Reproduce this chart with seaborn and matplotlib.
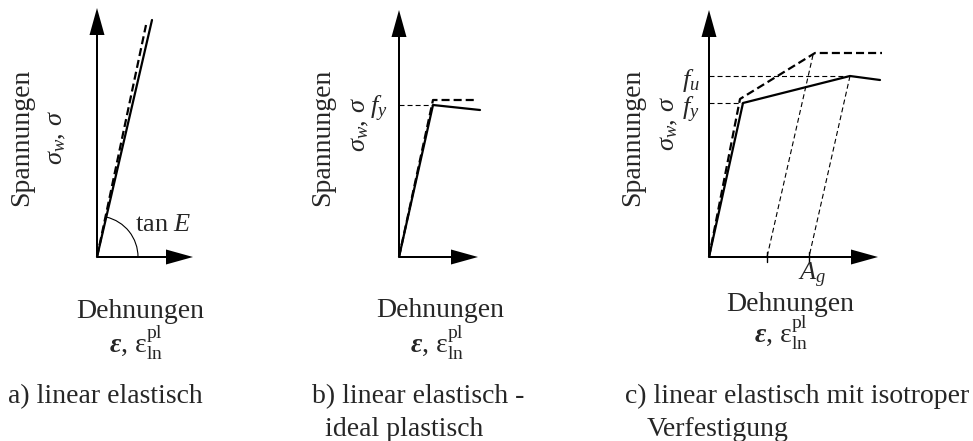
import numpy as np
import matplotlib
matplotlib.use("Agg")
import matplotlib.pyplot as plt
from matplotlib.patches import Arc
import seaborn as sns

sns.set_theme(style="white")
plt.rcParams["font.family"] = ["Liberation Serif", "DejaVu Serif"]
plt.rcParams["mathtext.fontset"] = "custom"
plt.rcParams["mathtext.rm"] = "Liberation Serif"
plt.rcParams["mathtext.it"] = "Liberation Serif:italic"
plt.rcParams["mathtext.bf"] = "Liberation Serif:italic:bold"
plt.rcParams["lines.scale_dashes"] = False

# --- schematic stress-strain data (strain units / stress units) ---
# a) linear elastic
a_eng_eps = [0, 55]
a_eng_sig = [0, 237]
a_true_eps = [0, 49]
a_true_sig = [0, 232]

# b) linear elastic - ideal plastic
b_eng_eps = [0, 34, 81]
b_eng_sig = [0, 152, 147]
b_true_eps = [0, 34, 76]
b_true_sig = [0, 157, 157]
b_fy = 152

# c) linear elastic with isotropic hardening
c_eng_eps = [0, 34, 141, 171]
c_eng_sig = [0, 154, 181, 177]
c_true_eps = [0, 31, 106, 173]
c_true_sig = [0, 158, 204, 204]
c_fy = 154
c_fu = 181
# elastic unloading paths (start point, end on strain axis)
c_unload1_eps = [104, 58]
c_unload1_sig = [202, 0]
c_unload2_eps = [141, 100]
c_unload2_sig = [181, 0]
c_ticks = [58, 100]

W, H = 973, 441
fig = plt.figure(figsize=(W / 100, H / 100), dpi=100)

LW_MAIN = 1.6
LW_THIN = 0.8
DASH_MAIN = (0, (5.8, 2.9))
DASH_THIN = (0, (3.6, 2.2))
FS = 20


def make_panel(x0, x1, ox, oy):
    ax = fig.add_axes([x0 / W, 0, (x1 - x0) / W, 1])
    ax.set_xlim(x0 - ox, x1 - ox)
    ax.set_ylim(oy - H, oy)
    ax.axis("off")
    return ax


def axes_arrows(ax, xtip, ytip):
    kw = dict(width=2.0, head_width=15, head_length=27,
              length_includes_head=True, fc="black", ec="black", lw=0,
              clip_on=False)
    ax.arrow(0, 0, 0, ytip, **kw)
    ax.arrow(0, 0, xtip, 0, **kw)


def curve(ax, x, y, dashed=False, lw=LW_MAIN, ls=None):
    style = ls if ls is not None else (DASH_MAIN if dashed else "-")
    sns.lineplot(x=x, y=y, sort=False, estimator=None, ax=ax, color="black",
                 linewidth=lw, linestyle=style)


def labels(ax, sp_x, sig_xy, deh_xy, eps_xy):
    ax.text(sp_x, 120, "Spannungen", rotation=90, ha="center", va="center",
            fontsize=FS)
    ax.text(sig_xy[0], sig_xy[1], r"$\sigma_w$, $\sigma$", rotation=90,
            ha="center", va="center", fontsize=19)
    ax.text(deh_xy[0], deh_xy[1], "Dehnungen", ha="center", va="baseline",
            fontsize=FS)
    ax.text(eps_xy[0], eps_xy[1],
            r"$\mathbf{\varepsilon}$, $\mathrm{\varepsilon}_{\mathrm{ln}}^{\mathrm{pl}}$",
            ha="center", va="baseline", fontsize=FS)


# ---- panel a ----
ax = make_panel(0, 300, 97, 257)
axes_arrows(ax, 96, 249)
curve(ax, a_eng_eps, a_eng_sig)
curve(ax, a_true_eps, a_true_sig, dashed=True)
ang = np.degrees(np.arctan2(a_eng_sig[1], a_eng_eps[1]))
ax.add_patch(Arc((0, 0), 82, 82, theta1=0, theta2=ang, lw=LW_THIN,
                 color="black"))
ax.text(66, 32, r"tan $E$", ha="center", va="center", fontsize=19)
labels(ax, -75, (-40, 119), (43, -61), (39, -96))
ax.text(-89, -146, "a) linear elastisch", ha="left", va="baseline",
        fontsize=FS)

# ---- panel b ----
ax = make_panel(300, 600, 399, 257)
axes_arrows(ax, 79, 247)
curve(ax, [0, b_eng_eps[1]], [b_fy, b_fy], lw=LW_THIN, ls=DASH_THIN)
curve(ax, b_eng_eps, b_eng_sig)
curve(ax, b_true_eps, b_true_sig, dashed=True)
ax.text(-11, b_fy - 4, r"$f_y$", ha="right", va="center", fontsize=19)
labels(ax, -76, (-39, 132), (41, -60), (38, -96))
ax.text(-87, -146, "b) linear elastisch -", ha="left", va="baseline",
        fontsize=FS)
ax.text(-74, -179, "ideal plastisch", ha="left", va="baseline", fontsize=FS)

# ---- panel c ----
ax = make_panel(600, 973, 709, 257)
axes_arrows(ax, 169, 247)
curve(ax, [0, c_eng_eps[1]], [c_fy, c_fy], lw=LW_THIN, ls=DASH_THIN)
curve(ax, [0, c_eng_eps[2]], [c_fu, c_fu], lw=LW_THIN, ls=DASH_THIN)
curve(ax, c_unload1_eps, c_unload1_sig, lw=LW_THIN, ls=DASH_THIN)
curve(ax, c_unload2_eps, c_unload2_sig, lw=LW_THIN, ls=DASH_THIN)
for t in c_ticks:
    curve(ax, [t, t], [-5, 5], lw=1.0)
curve(ax, c_eng_eps, c_eng_sig)
curve(ax, c_true_eps, c_true_sig, dashed=True)
ax.text(-9, c_fu - 4, r"$f_u$", ha="right", va="center", fontsize=19)
ax.text(-9, c_fy - 7, r"$f_y$", ha="right", va="center", fontsize=19)
ax.text(c_ticks[1] + 3, -23, r"$A_g$", ha="center", va="baseline",
        fontsize=19)
labels(ax, -76, (-40, 133), (81, -54), (72, -87))
ax.text(-84, -146, "c) linear elastisch mit isotroper", ha="left",
        va="baseline", fontsize=FS)
ax.text(-62, -179, "Verfestigung", ha="left", va="baseline", fontsize=FS)

fig.savefig("out.png", dpi=100, facecolor="white")
